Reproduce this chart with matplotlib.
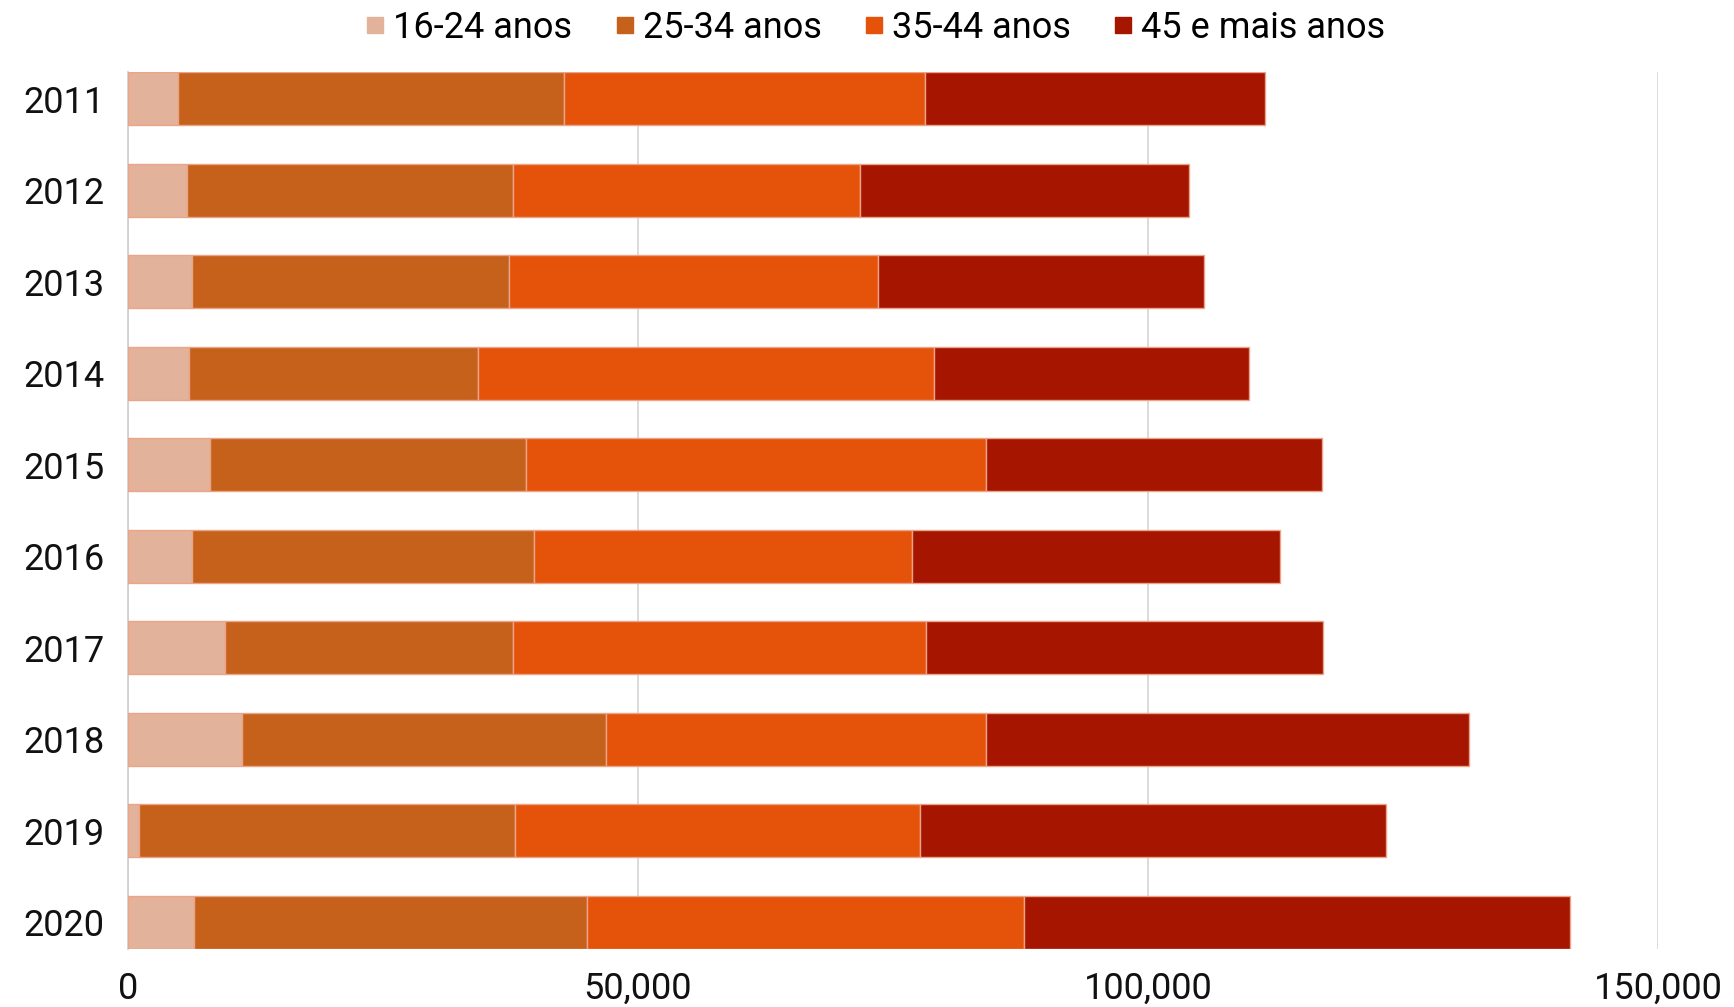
import matplotlib.pyplot as plt
from matplotlib.lines import Line2D
from matplotlib.ticker import FuncFormatter

plt.rcParams['font.family'] = ['Roboto', 'DejaVu Sans']

years = ["2011", "2012", "2013", "2014", "2015", "2016", "2017", "2018", "2019", "2020"]
age_groups = ["16-24 anos", "25-34 anos", "35-44 anos", "45 e mais anos"]

v_16_24 = [4900, 5750, 6300, 5950, 8000, 6300, 9550, 11150, 1050, 6500]
v_25_34 = [37800, 32000, 31100, 28400, 31000, 33500, 28200, 35700, 36900, 38500]
v_35_44 = [35400, 34050, 36100, 44700, 45100, 37100, 40450, 37300, 39700, 42850]
v_45_plus = [33400, 32200, 32000, 30900, 33000, 36000, 38950, 47300, 45650, 53500]

colors = ["#E2B29B", "#C5611B", "#E5530A", "#A61500"]
series = [v_16_24, v_25_34, v_35_44, v_45_plus]

fig = plt.figure(figsize=(17.34, 10.07), dpi=100)
ax = fig.add_axes([128 / 1734, 1 - 949 / 1007, (1658 - 128) / 1734, (949 - 72) / 1007])

bar_h = 0.58
pos = list(range(len(years)))
left = [0] * len(years)
for vals, col, lab in zip(series, colors, age_groups):
    ax.barh(pos, vals, left=left, height=bar_h, color=col, label=lab,
            edgecolor="#EBA488", linewidth=1.0, zorder=3)
    left = [l + v for l, v in zip(left, vals)]

ax.set_ylim(len(years) - 1 + bar_h / 2, -bar_h / 2)
ax.set_xlim(0, 150000)
ax.set_xticks([0, 50000, 100000, 150000])
ax.xaxis.set_major_formatter(FuncFormatter(lambda x, p: f"{int(x):,}"))
ax.set_yticks(pos)
ax.set_yticklabels(years)

ax.grid(axis="x", color="#D9D9D9", linewidth=1.3, zorder=0)
for s in ["top", "right", "bottom"]:
    ax.spines[s].set_visible(False)
ax.spines["left"].set_color("#D0D0D0")
ax.spines["left"].set_linewidth(1.3)
ax.tick_params(axis="both", length=0, labelsize=26, colors="#111111")
ax.tick_params(axis="x", pad=16)
ax.tick_params(axis="y", pad=17)

handles = [Line2D([0], [0], marker="s", linestyle="none", markersize=11,
                  markerfacecolor=c, markeredgecolor=c) for c in colors]
fig.legend(handles, age_groups, loc="center", bbox_to_anchor=(875 / 1734, 1 - 28 / 1007),
           ncol=4, frameon=False, fontsize=26, handletextpad=0.2, columnspacing=1.15,
           handlelength=0.6)

fig.savefig("out.png", dpi=100)
